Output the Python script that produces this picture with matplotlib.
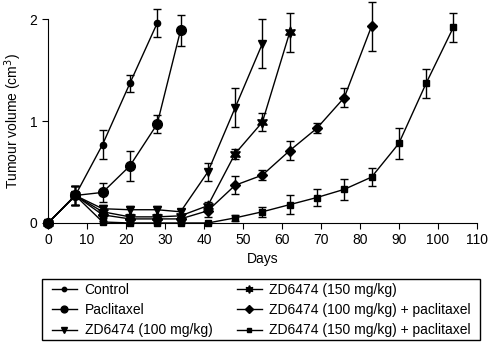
import numpy as np
import matplotlib
matplotlib.use("Agg")
import matplotlib.pyplot as plt
from matplotlib.patches import Rectangle

plt.rcParams['font.family'] = ['Liberation Sans', 'DejaVu Sans']

# Days of measurement
days_control = [0, 7, 14, 21, 28]
days_pac = [0, 7, 14, 21, 28, 34]
days_zd100 = [0, 7, 14, 21, 28, 34, 41, 48, 55]
days_zd150 = [0, 7, 14, 21, 28, 34, 41, 48, 55, 62]
days_zd100_pac = [0, 7, 14, 21, 28, 34, 41, 48, 55, 62, 69, 76, 83]
days_zd150_pac = [0, 7, 14, 21, 28, 34, 41, 48, 55, 62, 69, 76, 83, 90, 97, 104]

# Tumour volume (cm3) and error
vol_control = [0.0, 0.27, 0.77, 1.37, 1.96]
err_control = [0.0, 0.09, 0.14, 0.08, 0.14]
vol_pac = [0.0, 0.27, 0.30, 0.56, 0.97, 1.89]
err_pac = [0.0, 0.09, 0.09, 0.15, 0.09, 0.15]
vol_zd100 = [0.0, 0.27, 0.14, 0.13, 0.13, 0.11, 0.50, 1.13, 1.76]
err_zd100 = [0.0, 0.09, 0.04, 0.04, 0.04, 0.03, 0.09, 0.19, 0.24]
vol_zd150 = [0.0, 0.27, 0.11, 0.06, 0.06, 0.07, 0.17, 0.68, 0.99, 1.87]
err_zd150 = [0.0, 0.09, 0.03, 0.02, 0.02, 0.02, 0.04, 0.05, 0.09, 0.19]
vol_zd100_pac = [0.0, 0.27, 0.08, 0.04, 0.04, 0.04, 0.12, 0.37, 0.47, 0.71, 0.93, 1.23, 1.93]
err_zd100_pac = [0.0, 0.09, 0.03, 0.02, 0.02, 0.02, 0.06, 0.09, 0.05, 0.09, 0.05, 0.09, 0.24]
vol_zd150_pac = [0.0, 0.27, 0.01, 0.0, 0.0, 0.0, 0.0, 0.05, 0.11, 0.18, 0.25, 0.33, 0.45, 0.78, 1.37, 1.92]
err_zd150_pac = [0.0, 0.09, 0.01, 0.0, 0.0, 0.0, 0.0, 0.03, 0.05, 0.09, 0.08, 0.10, 0.09, 0.15, 0.14, 0.14]

series = [
    ("Control", days_control, vol_control, err_control, "o", 4.5),
    ("Paclitaxel", days_pac, vol_pac, err_pac, "o", 7),
    ("ZD6474 (100 mg/kg)", days_zd100, vol_zd100, err_zd100, "v", 6),
    ("ZD6474 (150 mg/kg)", days_zd150, vol_zd150, err_zd150, (6, 1, 0), 8),
    ("ZD6474 (100 mg/kg) + paclitaxel", days_zd100_pac, vol_zd100_pac, err_zd100_pac, "D", 5.5),
    ("ZD6474 (150 mg/kg) + paclitaxel", days_zd150_pac, vol_zd150_pac, err_zd150_pac, "s", 5),
]

fig = plt.figure(figsize=(4.9, 3.42), dpi=100)
ax = fig.add_axes([0.098, 0.348, 0.875, 0.596])

handles = []
for name, d, v, e, mk, ms in series:
    ax.errorbar(d, v, yerr=e, fmt="none", ecolor="black", elinewidth=1,
                capsize=2.6, capthick=1, clip_on=False)
    h, = ax.plot(d, v, color="black", lw=1, marker=mk, markersize=ms,
                 label=name, clip_on=False)
    handles.append(h)

ax.set_xlim(0, 110)
ax.set_ylim(0, 2)
ax.set_xticks(np.arange(0, 111, 10))
ax.set_yticks([0, 1, 2])
ax.spines["top"].set_visible(False)
ax.spines["right"].set_visible(False)
ax.tick_params(direction="out", length=4, labelsize=10)
ax.set_xlabel("Days", fontsize=10, labelpad=3)
ax.set_ylabel("Tumour volume (cm$^3$)", fontsize=10)

# legend box drawn separately so the padding matches
W, H = 490.0, 342.0
fig.patches.append(Rectangle((42 / W, 1 - 340 / H), (480 - 42) / W, (340 - 279) / H,
                             transform=fig.transFigure, fill=False,
                             edgecolor="black", linewidth=1))
leg = fig.legend(handles, [s[0] for s in series],
                 ncol=2, loc="upper left", bbox_to_anchor=(47.8 / W, 1 - 279 / H),
                 borderaxespad=0, fontsize=10, frameon=False,
                 handlelength=1.8, handletextpad=0.55, columnspacing=1.75,
                 borderpad=0.3, labelspacing=0.44, markerscale=0.7)

fig.savefig("out.png", dpi=100)
